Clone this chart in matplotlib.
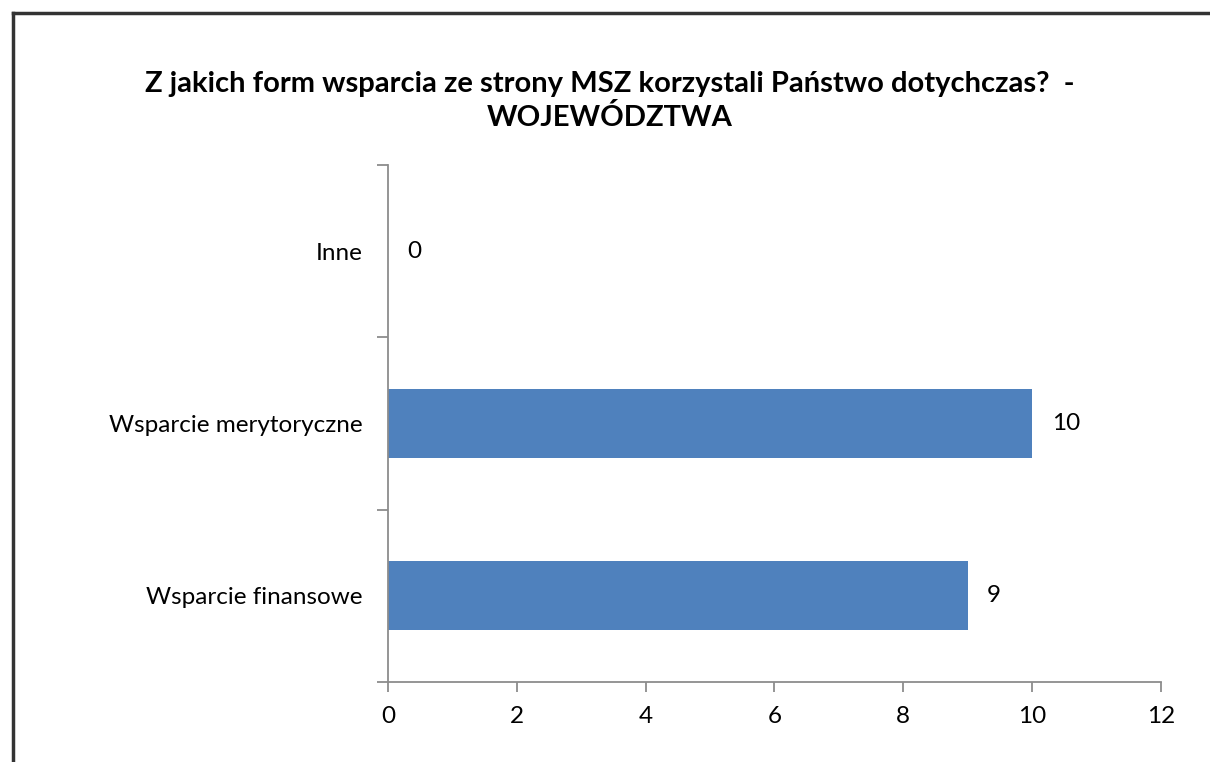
import matplotlib
matplotlib.use("Agg")
import matplotlib.pyplot as plt
from matplotlib.lines import Line2D

categories = ["Wsparcie finansowe", "Wsparcie merytoryczne", "Inne"]
values = [9, 10, 0]
xticks = [0, 2, 4, 6, 8, 10, 12]
title = "Z jakich form wsparcia ze strony MSZ korzystali Państwo dotychczas?  -\nWOJEWÓDZTWA"

plt.rcParams['font.family'] = ['Lato', 'DejaVu Sans']

fig = plt.figure(figsize=(12.1, 7.62), dpi=100)
ax = fig.add_axes([388/1210, 1-682/762, (1161-388)/1210, (682-165)/762])

ypos = list(range(len(categories)))
ax.barh(ypos, values, height=0.4, color="#4F81BD")
ax.set_xlim(0, 12)
ax.set_ylim(-0.5, len(categories) - 0.5)
ax.set_xticks(xticks)
ax.set_xticklabels([str(t) for t in xticks], fontsize=17.5)
ax.set_yticks(ypos)
ax.set_yticklabels(categories, fontsize=17.5)
ax.set_yticks([y - 0.5 for y in range(len(categories) + 1)], minor=True)
ax.tick_params(axis='y', which='major', length=0, pad=18.5)
ax.tick_params(axis='y', which='minor', length=8, color="#8c8c8c", width=1.3)
ax.tick_params(axis='x', length=7, color="#8c8c8c", width=1.3, pad=10)

for s in ["top", "right"]:
    ax.spines[s].set_visible(False)
for s in ["left", "bottom"]:
    ax.spines[s].set_color("#8c8c8c")
    ax.spines[s].set_linewidth(1.3)

for y, v in zip(ypos, values):
    ax.annotate(str(v), (v, y), xytext=(14, 0), textcoords="offset points",
                va="center", ha="left", fontsize=17.5)

fig.text(610/1210, 1-101/762, title, ha="center", va="center",
         fontsize=21, fontweight="bold", linespacing=1.3)

# outer frame (partial, as in reference)
fig.add_artist(Line2D([13/1210, 13/1210], [0, 1-13/762], color="#333333", lw=2.5, transform=fig.transFigure))
fig.add_artist(Line2D([13/1210, 1], [1-13/762, 1-13/762], color="#333333", lw=2.5, transform=fig.transFigure))

fig.savefig("out.png", dpi=100)
